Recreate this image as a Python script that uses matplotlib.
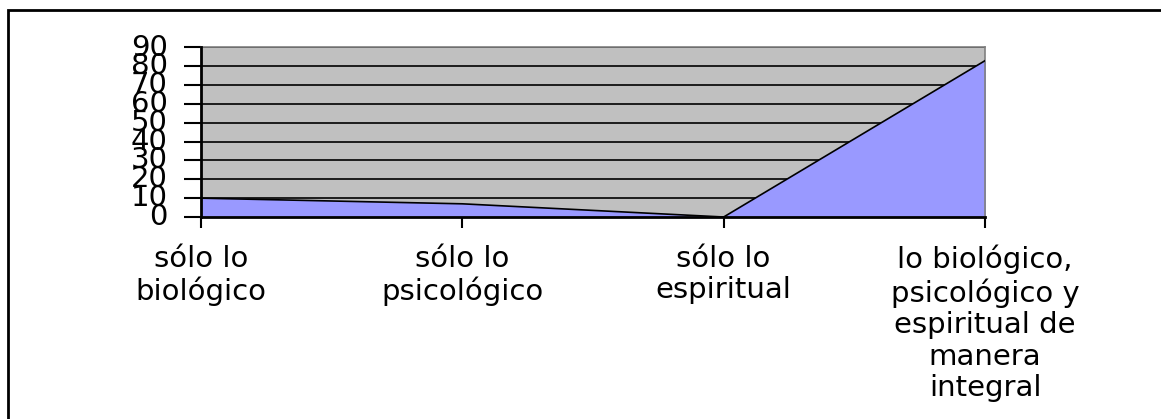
import matplotlib.pyplot as plt
from matplotlib.patches import Rectangle

categorias = ['sólo lo\nbiológico', 'sólo lo\npsicológico', 'sólo lo\nespiritual',
              'lo biológico,\npsicológico y\nespiritual de\nmanera\nintegral']
valores = [10, 7, 0, 83]
y_ticks = [0, 10, 20, 30, 40, 50, 60, 70, 80, 90]

plt.rcParams['font.family'] = ['DejaVu Sans']

fig = plt.figure(figsize=(11.61, 4.19), dpi=100)
ax = fig.add_axes([201 / 1161, 1 - 217 / 419, 784 / 1161, 169.5 / 419])

x = list(range(len(valores)))
ax.set_facecolor('#C0C0C0')
ax.fill_between(x, valores, 0, color='#9999FF', zorder=2)
ax.plot(x, valores, color='black', lw=1.2, zorder=3)

ax.set_xlim(0, len(valores) - 1)
ax.set_ylim(0, 90)
ax.set_yticks(y_ticks)
ax.set_xticks(x)
ax.set_xticklabels(categorias, fontsize=21, linespacing=1.16)
ax.tick_params(axis='y', direction='out', length=12, width=1.5, pad=12, labelsize=21)
ax.tick_params(axis='x', direction='out', length=8, width=1.5, pad=12)
for lab in ax.get_yticklabels():
    lab.set_verticalalignment('center')

ax.grid(axis='y', color='black', lw=1.2, zorder=1)
ax.set_axisbelow(True)
for s in ['left', 'bottom']:
    ax.spines[s].set_linewidth(2)
    ax.spines[s].set_color('black')
    ax.spines[s].set_zorder(4)
for s in ['top', 'right']:
    ax.spines[s].set_linewidth(1.2)
    ax.spines[s].set_color('#808080')

# marco exterior del grafico (se sale por la derecha y abajo)
fig.patches.append(Rectangle((8 / 1161, -0.1), 1.2, 1.1 - 10 / 419,
                             transform=fig.transFigure, fill=False,
                             edgecolor='black', lw=2))

fig.savefig('out.png', dpi=100)
